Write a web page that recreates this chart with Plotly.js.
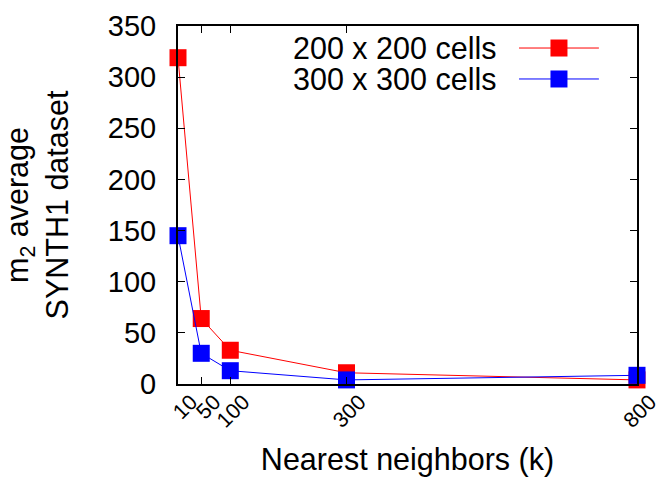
<!DOCTYPE html>
<html>
<head>
<meta charset="utf-8">
<script src="https://cdn.plot.ly/plotly-3.0.1.min.js"></script>
<style>html,body{margin:0;padding:0;background:#fff}#chart{width:658px;height:479px}</style>
</head>
<body>
<div id="chart"></div>
<script>
const neighbors = [10, 50, 100, 300, 800];
const cells200 = [319, 64, 33, 11, 4];
const cells300 = [145, 30, 13, 4, 8.5];
const seriesNames = ["200 x 200 cells", "300 x 300 cells"];
const seriesColors = ["#ff0000", "#0000ff"];
const xTicks = [10, 50, 100, 300, 800];
const yTicks = [0, 50, 100, 150, 200, 250, 300, 350];

const FONT = "Liberation Sans, Arial, Helvetica, sans-serif";

const traces = [cells200, cells300].map((vals, i) => ({
  x: neighbors, y: vals, type: "scatter", mode: "lines+markers",
  name: seriesNames[i], showlegend: false, cliponaxis: false,
  line: {color: seriesColors[i], width: 1},
  marker: {symbol: "square", size: 17, color: seriesColors[i], line: {width: 0}}
}));

// legend (keys on the right of the labels, as in the reference)
const legY = [0.9385, 0.852];
const shapes = [], annotations = [];
seriesNames.forEach((n, i) => {
  annotations.push({xref: "paper", yref: "paper", x: 0.697, y: legY[i], xanchor: "right", yanchor: "middle",
    text: n, showarrow: false, font: {family: FONT, size: 30.5, color: "#000"}});
  shapes.push({type: "line", xref: "paper", yref: "paper", x0: 0.743, x1: 0.917, y0: legY[i], y1: legY[i],
    line: {color: seriesColors[i], width: 1}});
  shapes.push({type: "rect", xref: "paper", yref: "paper", xsizemode: "pixel", ysizemode: "pixel",
    xanchor: 0.830, yanchor: legY[i], x0: -8.5, x1: 8.5, y0: -8.5, y1: 8.5,
    fillcolor: seriesColors[i], line: {width: 0}});
});

const layout = {
  width: 658, height: 479,
  margin: {l: 178, r: 21, t: 26, b: 95},
  paper_bgcolor: "#fff", plot_bgcolor: "#fff",
  font: {family: FONT, color: "#000", size: 29},
  xaxis: {
    range: [10, 800], tickvals: xTicks, ticktext: xTicks.map(String), tickangle: -45,
    ticks: "inside", ticklen: 7, tickwidth: 1, tickcolor: "#000",
    showline: true, linecolor: "#000", linewidth: 2, mirror: "allticks",
    showgrid: false, zeroline: false, layer: "above traces",
    ticklabelshift: 13, ticklabelstandoff: -5, ticklabeloverflow: "allow",
    tickfont: {family: FONT, size: 21.5, color: "#000"},
    title: {text: "Nearest neighbors (k)", font: {family: FONT, size: 30.5, color: "#000"}, standoff: 17}
  },
  yaxis: {
    range: [0, 350], tickvals: yTicks, ticks: "inside", ticklen: 7, tickwidth: 1, tickcolor: "#000",
    showline: true, linecolor: "#000", linewidth: 2, mirror: "allticks",
    showgrid: false, zeroline: false, layer: "above traces",
    ticklabelstandoff: 14,
    tickfont: {family: FONT, size: 29, color: "#000"},
    title: {text: "m<sub>2</sub> average<br>SYNTH1 dataset", font: {family: FONT, size: 30.5, color: "#000"}, standoff: 30}
  },
  shapes: shapes, annotations: annotations
};

Plotly.newPlot("chart", traces, layout, {displayModeBar: false, staticPlot: true});
</script>
</body>
</html>
